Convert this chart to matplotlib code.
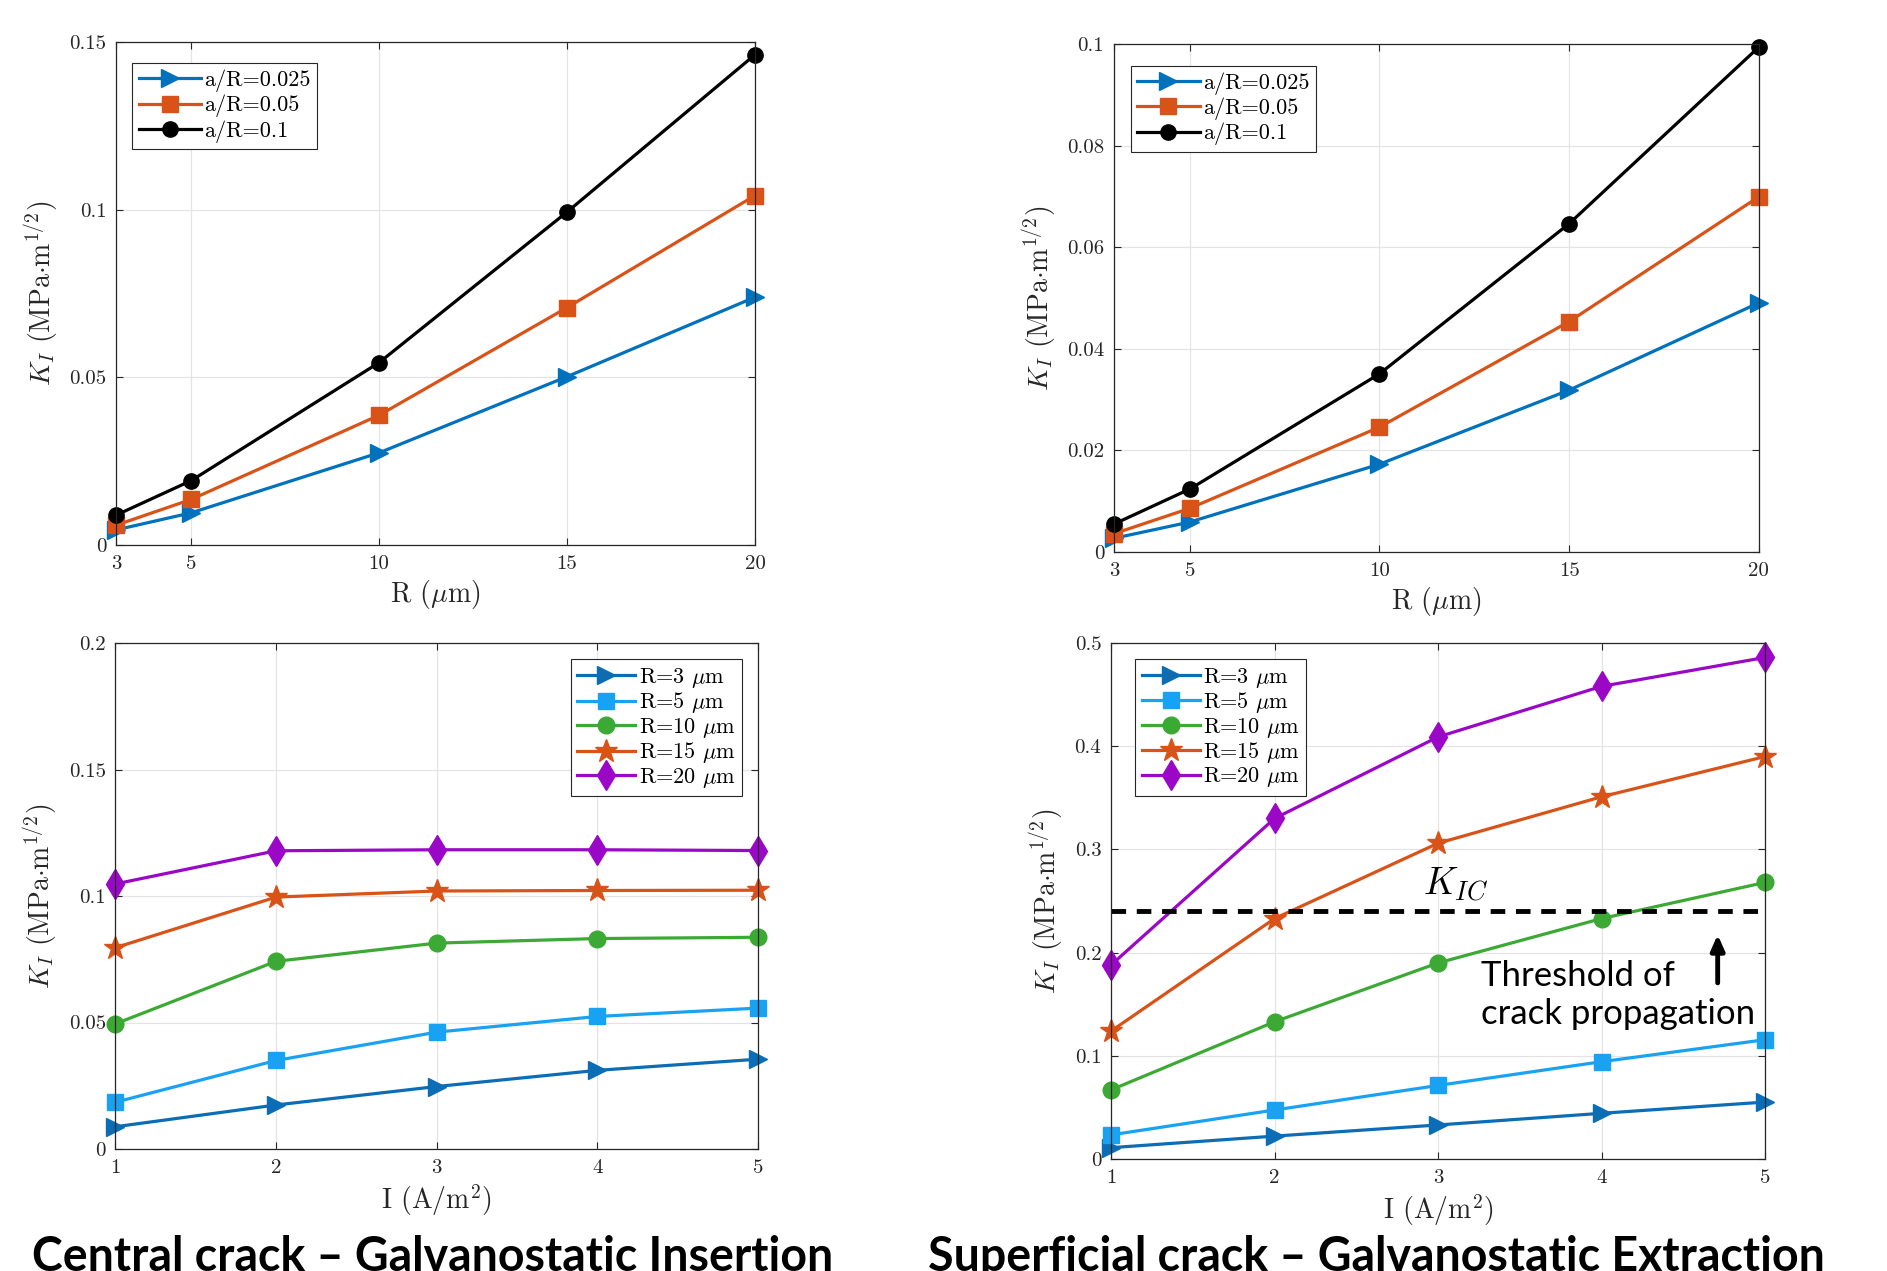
import matplotlib
matplotlib.use("Agg")
import matplotlib.pyplot as plt

plt.rcParams['font.family'] = 'cmr10'
plt.rcParams['mathtext.fontset'] = 'cm'
plt.rcParams['axes.formatter.use_mathtext'] = True

# ---- data: K_I vs R (top row) ----
R_vals = [3, 5, 10, 15, 20]
ratio_labels = ['a/R=0.025', 'a/R=0.05', 'a/R=0.1']
central_R = [
    [0.0045, 0.0096, 0.0275, 0.0502, 0.0739],
    [0.0059, 0.0136, 0.0387, 0.0708, 0.1042],
    [0.0089, 0.0192, 0.0544, 0.0993, 0.1462],
]
superf_R = [
    [0.0027, 0.0059, 0.0173, 0.0319, 0.0491],
    [0.0036, 0.0086, 0.0246, 0.0454, 0.0700],
    [0.0055, 0.0124, 0.0351, 0.0647, 0.0995],
]

# ---- data: K_I vs I (bottom row) ----
I_vals = [1, 2, 3, 4, 5]
radius_labels = [r'R=3 $\mu$m', r'R=5 $\mu$m', r'R=10 $\mu$m', r'R=15 $\mu$m', r'R=20 $\mu$m']
central_I = [
    [0.0088, 0.0174, 0.0247, 0.0311, 0.0355],
    [0.0185, 0.0350, 0.0462, 0.0524, 0.0557],
    [0.0495, 0.0742, 0.0814, 0.0832, 0.0837],
    [0.0796, 0.0996, 0.1020, 0.1022, 0.1023],
    [0.1048, 0.1179, 0.1183, 0.1183, 0.1180],
]
superf_I = [
    [0.0110, 0.0222, 0.0330, 0.0443, 0.0552],
    [0.0234, 0.0475, 0.0713, 0.0943, 0.1156],
    [0.0670, 0.1330, 0.1900, 0.2330, 0.2680],
    [0.1240, 0.2330, 0.3060, 0.3510, 0.3900],
    [0.1880, 0.3300, 0.4090, 0.4580, 0.4860],
]
K_IC = 0.24

top_colors = ['#0072BD', '#D95319', '#000000']
top_markers = ['>', 's', 'o']
top_msize = [13, 11, 11]
bot_colors = ['#0B6DB5', '#1AA2F2', '#3CA935', '#D95319', '#9A07C6']
bot_markers = ['>', 's', 'o', '*', 'd']
bot_msize = [13, 11, 12, 17, 15]

fig = plt.figure(figsize=(18.87, 12.71), dpi=100)

ax_tl = fig.add_axes([0.0615, 0.5712, 0.3386, 0.3958])
ax_tr = fig.add_axes([0.5903, 0.5657, 0.3418, 0.3993])
ax_bl = fig.add_axes([0.0612, 0.0960, 0.3405, 0.3980])
ax_br = fig.add_axes([0.5888, 0.0881, 0.3466, 0.4060])

ylab = r'$K_I$ (MPa$\cdot$m$^{1/2}$)'


def style(ax, xt, yt, ytl, ylim, xlabel, xlim):
    ax.set_xlim(*xlim)
    ax.set_ylim(*ylim)
    ax.set_xticks(xt)
    ax.set_xticklabels([str(v) for v in xt])
    ax.set_yticks(yt)
    ax.set_yticklabels(ytl)
    ax.tick_params(direction='in', top=True, right=True, length=5, width=0.8,
                   labelsize=15, colors='#262626', pad=7)
    ax.grid(True, color='#e4e4e4', linewidth=0.9)
    ax.set_axisbelow(True)
    for s in ax.spines.values():
        s.set_color('#262626')
        s.set_linewidth(0.9)
    ax.set_xlabel(xlabel, fontsize=20, color='#262626', labelpad=4)
    ax.set_ylabel(ylab, fontsize=20, color='#262626', labelpad=6)


for ax, data, yt, ytl, ylim, anchor in [
        (ax_tl, central_R, [0, 0.05, 0.1, 0.15], ['0', '0.05', '0.1', '0.15'], (0, 0.15), (0.025, 0.958)),
        (ax_tr, superf_R, [0, 0.02, 0.04, 0.06, 0.08, 0.1], ['0', '0.02', '0.04', '0.06', '0.08', '0.1'], (0, 0.1), (0.026, 0.958))]:
    for vals, c, m, ms, lab in zip(data, top_colors, top_markers, top_msize, ratio_labels):
        ax.plot(R_vals, vals, color=c, marker=m, markersize=ms, linewidth=2.3, label=lab, clip_on=False)
    style(ax, R_vals, yt, ytl, ylim, r'R ($\mu$m)', (3, 20))
    leg = ax.legend(loc='upper left', bbox_to_anchor=anchor, borderaxespad=0, fontsize=16,
                    handlelength=2.8, handletextpad=0.15, labelspacing=0.12, borderpad=0.3,
                    fancybox=False, framealpha=1)
    leg.get_frame().set_edgecolor('#262626')
    leg.get_frame().set_linewidth(0.8)

for ax, data, yt, ytl, ylim, loc, anchor in [
        (ax_bl, central_I, [0, 0.05, 0.1, 0.15, 0.2], ['0', '0.05', '0.1', '0.15', '0.2'], (0, 0.2), 'upper right', (0.975, 0.968)),
        (ax_br, superf_I, [0, 0.1, 0.2, 0.3, 0.4, 0.5], ['0', '0.1', '0.2', '0.3', '0.4', '0.5'], (0, 0.5), 'upper left', (0.037, 0.969))]:
    for vals, c, m, ms, lab in zip(data, bot_colors, bot_markers, bot_msize, radius_labels):
        ax.plot(I_vals, vals, color=c, marker=m, markersize=ms, linewidth=2.3, label=lab, clip_on=False)
    style(ax, I_vals, yt, ytl, ylim, r'I (A/m$^2$)', (1, 5))
    leg = ax.legend(loc=loc, bbox_to_anchor=anchor, borderaxespad=0, fontsize=16,
                    handlelength=2.6, handletextpad=0.15, labelspacing=0.02, borderpad=0.3,
                    fancybox=False, framealpha=1)
    leg.get_frame().set_edgecolor('#262626')
    leg.get_frame().set_linewidth(0.8)

# K_IC threshold
ax_br.plot([1, 5], [K_IC, K_IC], color='black', linestyle=(0, (3, 2.2)), linewidth=3.5)
ax_br.text(3.11, 0.266, r'$K_{IC}$', fontsize=27, ha='center', va='center')
ax_br.annotate('', xy=(4.71, 0.220), xytext=(4.71, 0.168),
               arrowprops=dict(arrowstyle='-|>,head_width=0.4,head_length=0.9', color='black', lw=3.5))
ax_br.text(3.26, 0.159, 'Threshold of\ncrack propagation', fontsize=25, family='Lato',
           ha='left', va='center', linespacing=1.22)

fig.text(0.017, 0.0, 'Central crack \u2013 Galvanostatic Insertion', fontsize=33.5,
         family='Lato', fontweight='bold', ha='left', va='baseline')
fig.text(0.492, 0.0, 'Superficial crack \u2013 Galvanostatic Extraction', fontsize=33.5,
         family='Lato', fontweight='bold', ha='left', va='baseline')

fig.savefig('out.png', dpi=100)
